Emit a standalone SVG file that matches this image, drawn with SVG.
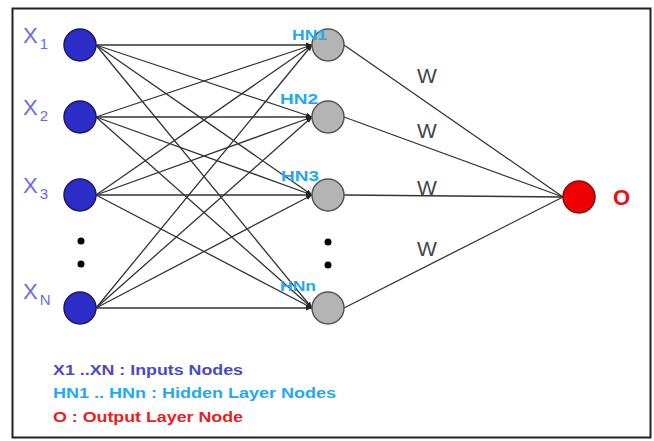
<svg xmlns="http://www.w3.org/2000/svg" width="654" height="441" viewBox="0 0 654 441">
<style>
.in{fill:#2c2cc8;stroke:#1a1a60;stroke-width:1.5}
.hid{fill:#b4b4b4;stroke:#555;stroke-width:1.5}
.out{fill:#f00000;stroke:#7a1010;stroke-width:1.5}
.dot{fill:#000}
.e{stroke:#333;stroke-width:1.3;fill:none}
.xl{font-family:"Liberation Sans",Arial,sans-serif;fill:#6b6be0;font-size:22px}
.xs{font-size:15px}
.hl{font-family:"Liberation Sans",Arial,sans-serif;fill:#22aaee;font-size:14px;font-weight:bold}
.w{font-family:"Liberation Sans",Arial,sans-serif;fill:#444;font-size:21px}
.lg{font-family:"Liberation Sans",Arial,sans-serif;font-size:14px;font-weight:bold}
</style>
<defs>
<marker id="ah" viewBox="0 0 10 10" refX="10" refY="5" markerWidth="6" markerHeight="6" orient="auto" markerUnits="userSpaceOnUse">
<path d="M0,1 L10,5 L0,9 z" fill="#222"/>
</marker>
</defs>
<rect x="12.5" y="8.5" width="638" height="429" fill="#fff" stroke="#222" stroke-width="2"/>
<g id="connectors">
<line class="e" x1="96" y1="45" x2="312" y2="45" marker-end="url(#ah)"/>
<line class="e" x1="96" y1="45" x2="312" y2="117" marker-end="url(#ah)"/>
<line class="e" x1="96" y1="45" x2="312" y2="195" marker-end="url(#ah)"/>
<line class="e" x1="96" y1="45" x2="312" y2="308" marker-end="url(#ah)"/>
<line class="e" x1="96" y1="117" x2="312" y2="45" marker-end="url(#ah)"/>
<line class="e" x1="96" y1="117" x2="312" y2="117" marker-end="url(#ah)"/>
<line class="e" x1="96" y1="117" x2="312" y2="195" marker-end="url(#ah)"/>
<line class="e" x1="96" y1="117" x2="312" y2="308" marker-end="url(#ah)"/>
<line class="e" x1="96" y1="195" x2="312" y2="45" marker-end="url(#ah)"/>
<line class="e" x1="96" y1="195" x2="312" y2="117" marker-end="url(#ah)"/>
<line class="e" x1="96" y1="195" x2="312" y2="195" marker-end="url(#ah)"/>
<line class="e" x1="96" y1="195" x2="312" y2="308" marker-end="url(#ah)"/>
<line class="e" x1="96" y1="308" x2="312" y2="45" marker-end="url(#ah)"/>
<line class="e" x1="96" y1="308" x2="312" y2="117" marker-end="url(#ah)"/>
<line class="e" x1="96" y1="308" x2="312" y2="195" marker-end="url(#ah)"/>
<line class="e" x1="96" y1="308" x2="312" y2="308" marker-end="url(#ah)"/>
<line class="e" x1="344" y1="45" x2="563" y2="197"/>
<line class="e" x1="344" y1="117" x2="563" y2="197"/>
<line class="e" x1="344" y1="195" x2="563" y2="197"/>
<line class="e" x1="344" y1="308" x2="563" y2="197"/>
<text class="w" x="427" y="83" text-anchor="middle">W</text>
<text class="w" x="427" y="138" text-anchor="middle">W</text>
<text class="w" x="427" y="195" text-anchor="middle">W</text>
<text class="w" x="427" y="256" text-anchor="middle">W</text>
</g>
<g id="x1"><circle class="in" cx="80" cy="45" r="16"/><text class="xl" x="23" y="43">X<tspan class="xs" dx="2" dy="6">1</tspan></text></g>
<g id="x2"><circle class="in" cx="80" cy="117" r="16"/><text class="xl" x="23" y="115">X<tspan class="xs" dx="2" dy="6">2</tspan></text></g>
<g id="x3"><circle class="in" cx="80" cy="195" r="16"/><text class="xl" x="23" y="193">X<tspan class="xs" dx="2" dy="6">3</tspan></text></g>
<g id="xdots"><circle class="dot" cx="81" cy="241" r="3.5"/><circle class="dot" cx="81" cy="264" r="3.5"/></g>
<g id="xn"><circle class="in" cx="80" cy="308" r="16"/><text class="xl" x="23" y="299">X<tspan class="xs" dx="2" dy="6">N</tspan></text></g>
<g id="hn1"><circle class="hid" cx="328" cy="45" r="16"/><text class="hl" x="292" y="40" textLength="35" lengthAdjust="spacingAndGlyphs">HN1</text></g>
<g id="hn2"><circle class="hid" cx="328" cy="117" r="16"/><text class="hl" x="280" y="104" textLength="38" lengthAdjust="spacingAndGlyphs">HN2</text></g>
<g id="hn3"><circle class="hid" cx="328" cy="195" r="16"/><text class="hl" x="281" y="181" textLength="38" lengthAdjust="spacingAndGlyphs">HN3</text></g>
<g id="hdots"><circle class="dot" cx="328" cy="242" r="3.5"/><circle class="dot" cx="328" cy="265" r="3.5"/></g>
<g id="hnn"><circle class="hid" cx="328" cy="308" r="16"/><text class="hl" x="280" y="291" textLength="36" lengthAdjust="spacingAndGlyphs">HNn</text></g>
<g id="o"><circle class="out" cx="579" cy="197" r="16"/><text x="613" y="205" font-family="Liberation Sans,Arial,sans-serif" font-size="22" font-weight="bold" fill="#e81010">O</text></g>
<g id="legend">
<text class="lg" x="53" y="375" fill="#4a4ac8" textLength="190" lengthAdjust="spacingAndGlyphs">X1 ..XN : Inputs Nodes</text>
<text class="lg" x="53" y="398" fill="#22aaee" textLength="283" lengthAdjust="spacingAndGlyphs">HN1  .. HNn : Hidden Layer Nodes</text>
<text class="lg" x="53" y="422" fill="#e82020" textLength="190" lengthAdjust="spacingAndGlyphs">O : Output Layer Node</text>
</g>
</svg>
